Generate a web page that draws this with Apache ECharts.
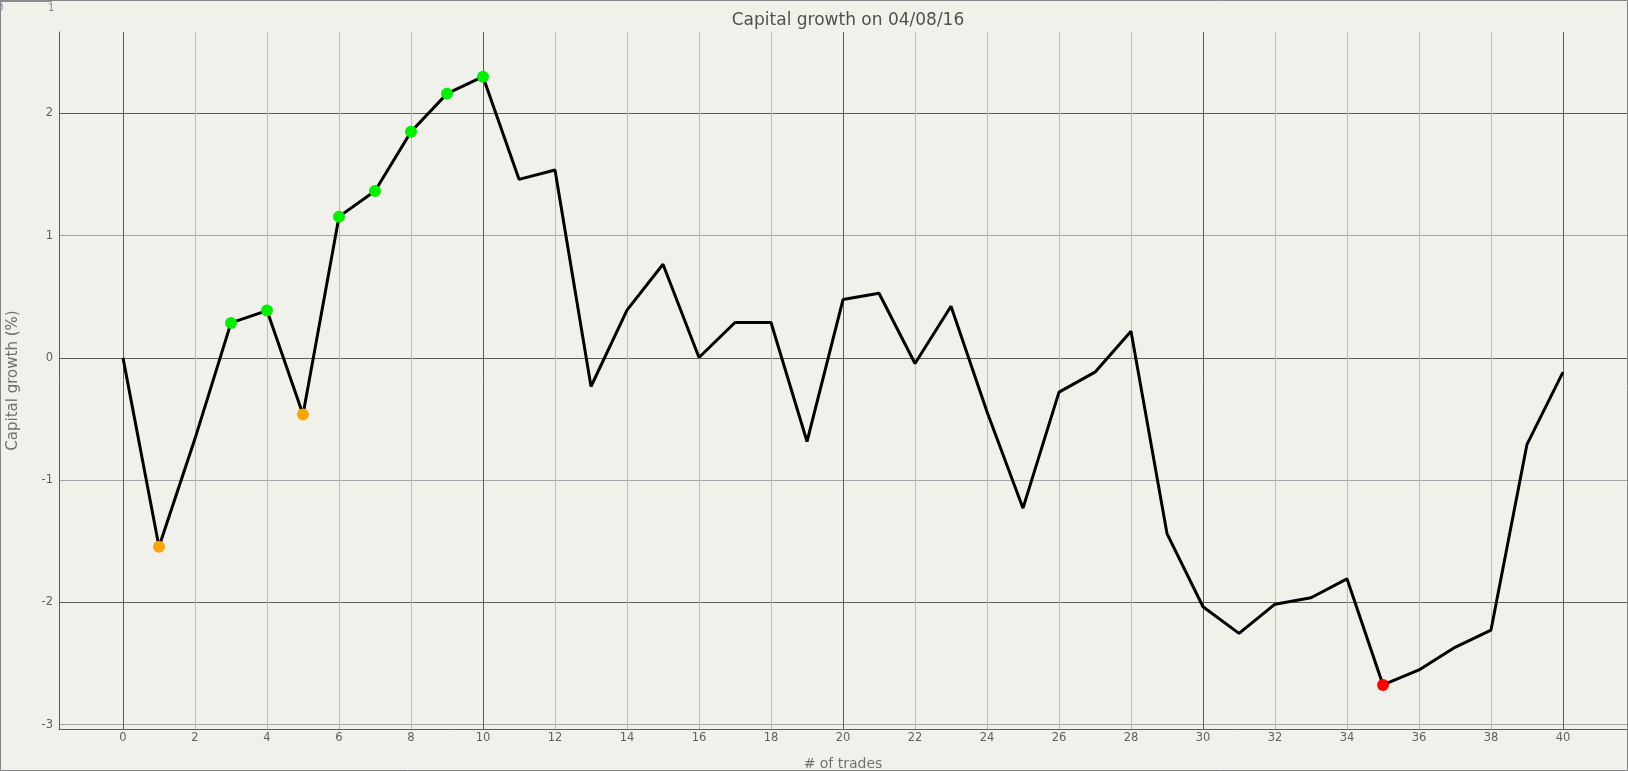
<!DOCTYPE html>
<html>
<head>
<meta charset="utf-8">
<script src="https://cdn.jsdelivr.net/npm/echarts@6/dist/echarts.min.js"></script>
<style>
  html, body { margin: 0; padding: 0; background: #f1f1ec; }
  #chart { width: 1628px; height: 771px; }
</style>
</head>
<body>
<div id="chart"></div>
<script>
// capital growth (%) after each trade, trade 0 .. 40
const gains = [
    0, -1.545, -0.66, 0.286, 0.387, -0.463, 1.155, 1.365, 1.85, 2.161,
    2.3, 1.46, 1.537, -0.234, 0.39, 0.766, 0.003, 0.289, 0.289, -0.684,
    0.477, 0.529, -0.046, 0.422, -0.44, -1.229, -0.28, -0.117, 0.218, -1.437,
    -2.035, -2.253, -2.014, -1.962, -1.807, -2.675, -2.552, -2.367, -2.226, -0.707,
    -0.117
];
// trades highlighted with a coloured dot
const greenTrades = [3, 4, 6, 7, 8, 9, 10];
const orangeTrades = [1, 5];
const redTrades = [35];

const xTicks = [0, 2, 4, 6, 8, 10, 12, 14, 16, 18, 20, 22, 24, 26, 28, 30, 32, 34, 36, 38, 40];
const yTicks = [-3, -2, -1, 0, 1, 2];

const FONT = 'DejaVu Sans';
const DARK = '#5c5c5c';

const chart = echarts.init(document.getElementById('chart'), null, { renderer: 'canvas' });

// points for the dot series
const dots = (idx) => idx.map(i => [i, gains[i]]);

const option = {
    backgroundColor: '#f1f1ec',
    animation: false,
    title: {
        text: 'Capital growth on 04/08/16',
        left: 843,
        textAlign: 'center',
        top: 7,
        textStyle: { fontFamily: FONT, fontSize: 17, fontWeight: 'normal', color: '#505050' }
    },
    grid: { left: 59, right: 1, top: 32, bottom: 42, containLabel: false, outerBoundsMode: 'none' },
    xAxis: {
        type: 'value',
        min: -1.778,
        max: 41.778,
        name: '# of trades',
        nameLocation: 'middle',
        nameGap: 28,
        nameTextStyle: { fontFamily: FONT, fontSize: 14, color: '#707070' },
        axisLine: { show: true, onZero: false, lineStyle: { color: DARK, width: 1 } },
        axisTick: { show: false, customValues: xTicks },
        axisLabel: { customValues: xTicks, margin: 3, fontFamily: FONT, fontSize: 11.5, color: '#606060' },
        splitLine: {
            show: true,
            lineStyle: { color: [DARK, '#bdbdbd', '#bdbdbd', '#bdbdbd', '#bdbdbd'], width: 1 }
        }
    },
    yAxis: {
        type: 'value',
        min: -3.035,
        max: 2.665,
        name: 'Capital growth (%)',
        nameLocation: 'middle',
        nameRotate: 90,
        nameGap: 38,
        nameTextStyle: { fontFamily: FONT, fontSize: 15, color: '#707070' },
        axisLine: { show: true, onZero: false, lineStyle: { color: DARK, width: 1 } },
        axisTick: { show: false, customValues: yTicks },
        axisLabel: { customValues: yTicks, margin: 6, fontFamily: FONT, fontSize: 11.5, color: '#606060' },
        splitLine: {
            show: true,
            lineStyle: { color: ['#a4a4a4', DARK], width: 1 }
        }
    },
    graphic: [
        {
            type: 'rect',
            silent: true,
            shape: { x: 0.5, y: 0.5, width: 1627, height: 770 },
            style: { fill: null, stroke: '#858585', lineWidth: 1 }
        },
        {
            type: 'line',
            silent: true,
            shape: { x1: 0, y1: 1, x2: 52, y2: 1 },
            style: { stroke: '#8a8a8a', lineWidth: 2 }
        },
        {
            type: 'text',
            silent: true,
            left: -3, top: 3,
            style: { text: '0', fontFamily: FONT, fontSize: 10, fill: '#7a8496' }
        },
        {
            type: 'text',
            silent: true,
            left: 48, top: 3,
            style: { text: '1', fontFamily: FONT, fontSize: 10, fill: '#7a8496' }
        }
    ],
    series: [
        {
            type: 'line',
            data: gains.map((v, i) => [i, v]),
            symbol: 'none',
            lineStyle: { color: '#000000', width: 3 },
            z: 3
        },
        {
            type: 'scatter',
            data: dots(greenTrades),
            symbolSize: 12,
            itemStyle: { color: '#00ee00', opacity: 1 },
            z: 4
        },
        {
            type: 'scatter',
            data: dots(orangeTrades),
            symbolSize: 12,
            itemStyle: { color: '#ffa500', opacity: 1 },
            z: 4
        },
        {
            type: 'scatter',
            data: dots(redTrades),
            symbolSize: 12,
            itemStyle: { color: '#ff0000', opacity: 1 },
            z: 4
        }
    ]
};

chart.setOption(option);
</script>
</body>
</html>
